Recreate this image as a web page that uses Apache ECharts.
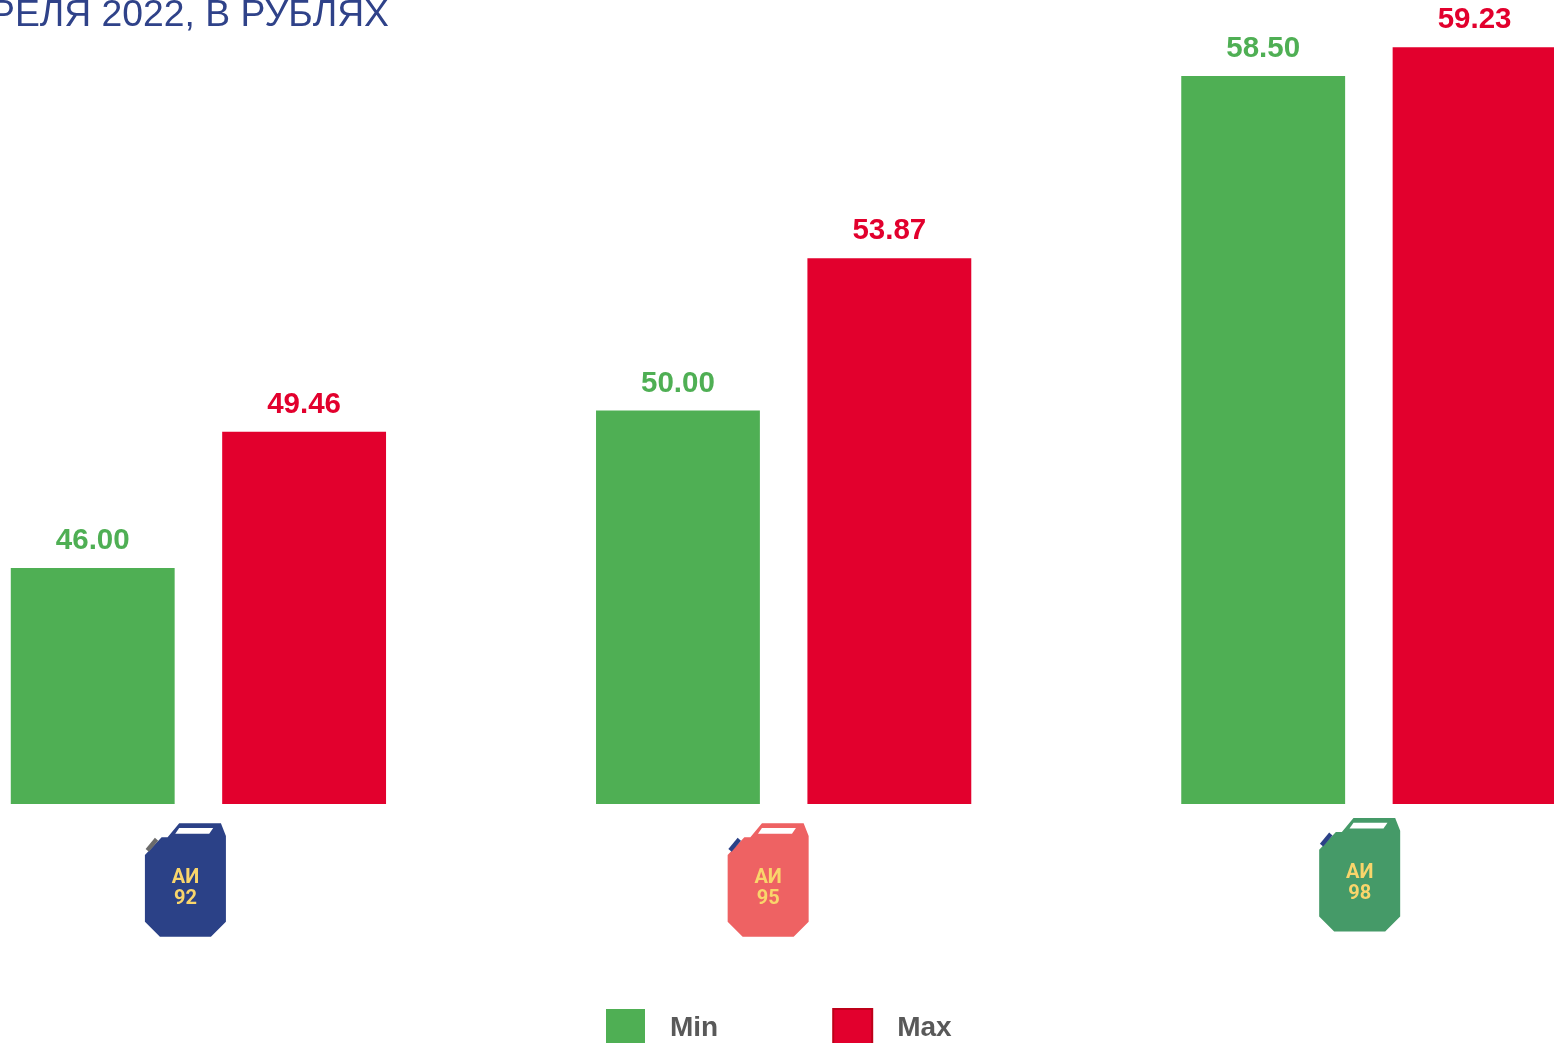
<!DOCTYPE html>
<html>
<head>
<meta charset="utf-8">
<style>html,body{margin:0;padding:0;background:#fff;overflow:hidden}#c{width:1554px;height:1043px}</style>
<script src="https://cdn.jsdelivr.net/npm/echarts@6/dist/echarts.min.js"></script>
</head>
<body>
<div id="c"></div>
<script>
const categories = ['АИ 92', 'АИ 95', 'АИ 98'];
const minValues = [46.00, 50.00, 58.50];
const maxValues = [49.46, 53.87, 59.23];
const canColors = ['#2B4187', '#EE6263', '#459A68'];
const capColors = ['#6B6B6B', '#2B4187', '#2B4187'];
const canOffsetX = [-53.5, -56, -49.7];
const canOffsetY = [19.3, 19.3, 14];
const titleText = 'РЕЛЯ 2022, В РУБЛЯХ';

const FONT = '"Liberation Sans", Arial, sans-serif';
const GREEN = '#4FAF54', RED = '#E2002D';
const body = [[34.3,0],[76,0],[81,12.7],[81,98.4],[66,113.4],[15,113.4],[0,98.4],[0,31.7],[16.7,14],[22.7,14]];
const win = [[34.3,4.7],[68.3,4.7],[64.3,10.4],[30.3,10.4]];
const cap = [[0.7,25.7],[10,14.4],[13.3,17.4],[4,28.4]];

function renderCan(params, api) {
  const i = api.value(0);
  const p = api.coord([i, 40]);
  const x = p[0] + canOffsetX[i], y = p[1] + canOffsetY[i];
  const parts = categories[i].split(' ');
  const poly = (pts, fill) => ({ type: 'polygon', x, y, shape: { points: pts }, style: { fill }, silent: true });
  const label = (t, dy) => ({ type: 'text', x: x + 40.5, y: y + dy, style: {
    text: t, fill: '#F9D56B', font: 'bold 20px Roboto, sans-serif', align: 'center', verticalAlign: 'middle' }, silent: true });
  return { type: 'group', children: [
    poly(body, canColors[i]),
    poly(cap, capColors[i]),
    poly(win, '#FFFFFF'),
    label(parts[0], 55),
    label(parts[1], 76)
  ]};
}

const chart = echarts.init(document.getElementById('c'), null, { renderer: 'canvas' });
const valueLabel = (color) => ({
  show: true, position: 'top', distance: 12, color,
  fontFamily: FONT, fontWeight: 'bold', fontSize: 29.5,
  formatter: (p) => p.value.toFixed(2)
});
chart.setOption({
  animation: false,
  backgroundColor: '#FFFFFF',
  title: {
    text: titleText, left: 384, top: -8, textAlign: 'right',
    textStyle: { color: '#2F4289', fontFamily: FONT, fontWeight: 'normal', fontSize: 37.3 }
  },
  grid: { left: -94.2, right: -107.5, top: 17, bottom: 239, outerBoundsMode: 'none' },
  legend: {
    left: 606, top: 1008, padding: 0, itemWidth: 39, itemHeight: 39, itemGap: 114, icon: 'rect',
    data: [
      { name: 'Min', itemStyle: { color: GREEN } },
      { name: 'Max', itemStyle: { color: RED, borderColor: '#BE0019', borderWidth: 2 } }
    ],
    textStyle: { color: '#595959', fontFamily: FONT, fontWeight: 'bold', fontSize: 28, padding: [0, 0, 0, 20] }
  },
  xAxis: { type: 'category', data: categories, axisLine: { show: false }, axisTick: { show: false }, axisLabel: { show: false }, splitLine: { show: false } },
  yAxis: { type: 'value', min: 40, max: 60, show: false, splitLine: { show: false } },
  series: [
    { name: 'Min', type: 'bar', data: minValues, barWidth: '28%', barGap: '29%', itemStyle: { color: GREEN }, label: valueLabel(GREEN) },
    { name: 'Max', type: 'bar', data: maxValues, barWidth: '28%', itemStyle: { color: RED }, label: valueLabel(RED) },
    { name: 'cans', type: 'custom', data: categories.map((c, i) => [i]), encode: { x: 0 }, renderItem: renderCan, clip: false, silent: true, z: 5 }
  ]
});
</script>
</body>
</html>
